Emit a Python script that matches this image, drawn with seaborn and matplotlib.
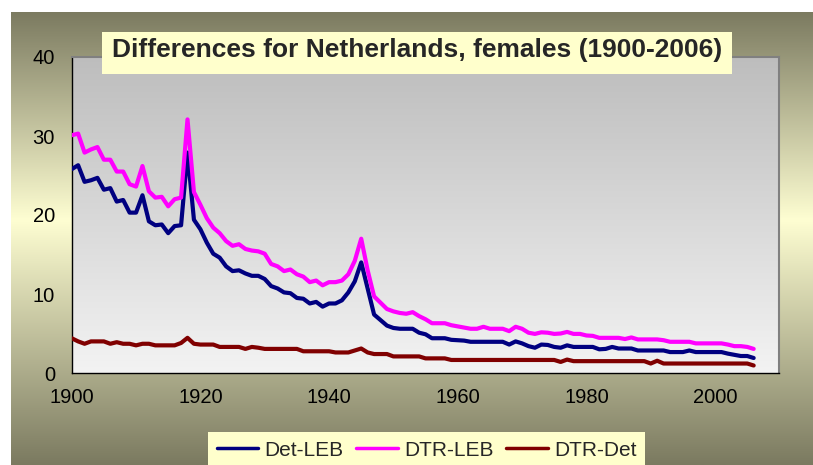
import numpy as np
import pandas as pd
import matplotlib
matplotlib.use("Agg")
import matplotlib.pyplot as plt
from matplotlib.colors import LinearSegmentedColormap
from matplotlib.patches import Rectangle
from matplotlib.lines import Line2D
import seaborn as sns

# values, one per year 1900..2006
years = list(range(1900, 2007))

det_leb = [25.8, 26.3, 24.2, 24.4, 24.7, 23.2, 23.4, 21.7, 21.9, 20.3,
           20.3, 22.5, 19.2, 18.7, 18.8, 17.7, 18.6, 18.7, 27.9, 19.4,
           18.2, 16.5, 15.1, 14.6, 13.5, 12.9, 13.0, 12.6, 12.3, 12.3,
           11.9, 11.0, 10.7, 10.2, 10.1, 9.5, 9.4, 8.8, 9.0, 8.4,
           8.8, 8.8, 9.2, 10.2, 11.6, 14.0, 10.7, 7.4, 6.7, 6.0,
           5.7, 5.6, 5.6, 5.6, 5.1, 4.9, 4.4, 4.4, 4.4, 4.2,
           4.15, 4.1, 3.95, 3.95, 3.95, 3.95, 3.95, 3.95, 3.6, 4.0,
           3.75, 3.4, 3.2, 3.6, 3.55, 3.3, 3.2, 3.5, 3.3, 3.3,
           3.3, 3.3, 3.0, 3.05, 3.3, 3.1, 3.1, 3.1, 2.85, 2.85,
           2.85, 2.85, 2.85, 2.65, 2.65, 2.65, 2.85, 2.65, 2.65, 2.65,
           2.65, 2.65, 2.45, 2.3, 2.15, 2.15, 1.9]

dtr_leb = [30.1, 30.3, 27.9, 28.3, 28.6, 27.0, 27.0, 25.5, 25.5, 23.9,
           23.6, 26.2, 23.0, 22.2, 22.3, 21.1, 22.0, 22.2, 32.1, 22.9,
           21.3, 19.6, 18.4, 17.7, 16.7, 16.1, 16.3, 15.7, 15.5, 15.4,
           15.1, 13.8, 13.5, 12.9, 13.1, 12.5, 12.2, 11.5, 11.7, 11.1,
           11.5, 11.5, 11.7, 12.5, 14.2, 17.0, 13.0, 9.7, 8.9, 8.1,
           7.8, 7.6, 7.5, 7.7, 7.2, 6.8, 6.3, 6.3, 6.3, 6.05,
           5.9, 5.75, 5.6, 5.6, 5.85, 5.6, 5.6, 5.6, 5.3, 5.85,
           5.6, 5.1, 4.95, 5.15, 5.1, 4.95, 5.0, 5.2, 4.95, 4.95,
           4.75, 4.7, 4.45, 4.45, 4.45, 4.45, 4.3, 4.5, 4.25, 4.25,
           4.25, 4.25, 4.15, 3.95, 3.95, 3.95, 3.95, 3.75, 3.75, 3.75,
           3.75, 3.75, 3.6, 3.4, 3.4, 3.3, 3.05]

dtr_det = [4.4, 4.0, 3.7, 4.0, 4.0, 4.0, 3.7, 3.9, 3.7, 3.7,
           3.5, 3.7, 3.7, 3.5, 3.5, 3.5, 3.5, 3.8, 4.45, 3.7,
           3.6, 3.6, 3.6, 3.3, 3.3, 3.3, 3.3, 3.05, 3.3, 3.2,
           3.05, 3.05, 3.05, 3.05, 3.05, 3.05, 2.75, 2.75, 2.75, 2.75,
           2.75, 2.6, 2.6, 2.6, 2.85, 3.1, 2.6, 2.4, 2.4, 2.4,
           2.1, 2.1, 2.1, 2.1, 2.1, 1.85, 1.85, 1.85, 1.85, 1.65,
           1.65, 1.65, 1.65, 1.65, 1.65, 1.65, 1.65, 1.65, 1.65, 1.65,
           1.65, 1.65, 1.65, 1.65, 1.65, 1.65, 1.4, 1.7, 1.5, 1.5,
           1.5, 1.5, 1.5, 1.5, 1.5, 1.5, 1.5, 1.5, 1.5, 1.5,
           1.2, 1.55, 1.2, 1.2, 1.2, 1.2, 1.2, 1.2, 1.2, 1.2,
           1.2, 1.2, 1.2, 1.2, 1.2, 1.2, 0.95]

series_names = ["Det-LEB", "DTR-LEB", "DTR-Det"]
series_colors = ["#000080", "#ff00ff", "#800000"]
title = "Differences for Netherlands, females (1900-2006)"
x_ticks = [1900, 1920, 1940, 1960, 1980, 2000]
y_ticks = [0, 10, 20, 30, 40]

df = pd.DataFrame({"year": years, "Det-LEB": det_leb,
                   "DTR-LEB": dtr_leb, "DTR-Det": dtr_det})
df = df.melt(id_vars="year", var_name="series", value_name="diff")

sns.set_style("white")
plt.rcParams["font.family"] = ["Liberation Sans", "DejaVu Sans"]

W, H = 813, 465
fig = plt.figure(figsize=(W / 100, H / 100), dpi=100)
fig.patch.set_facecolor("white")

# olive / pale yellow chart-area gradient
bg = fig.add_axes([11 / W, 0, 1 - 11 / W, 1 - 12 / H], zorder=-10)
bg_cmap = LinearSegmentedColormap.from_list(
    "bg", [(0, "#7b7a60"), (0.46, "#fefed2"), (1, "#7b7a60")])
bg.imshow(np.linspace(0, 1, 256).reshape(-1, 1), aspect="auto",
          cmap=bg_cmap, extent=[0, 1, 0, 1], origin="upper")
bg.set_axis_off()

ax = fig.add_axes([71.7 / W, (H - 373) / H, (779.4 - 71.7) / W, (373 - 57) / H])
plot_cmap = LinearSegmentedColormap.from_list("pa", ["#bdbdbd", "#f3f3f3"])
ax.imshow(np.linspace(0, 1, 256).reshape(-1, 1), aspect="auto", cmap=plot_cmap,
          extent=[1900, 2010, 0, 40], origin="upper", zorder=0)

sns.lineplot(data=df, x="year", y="diff", hue="series", hue_order=series_names,
             palette=dict(zip(series_names, series_colors)), linewidth=3,
             legend=False, ax=ax, zorder=3)

ax.set_xlim(1900, 2010)
ax.set_ylim(0, 40)
ax.set_xticks(x_ticks)
ax.set_yticks(y_ticks)
ax.set_xlabel("")
ax.set_ylabel("")
ax.tick_params(axis="both", direction="out", length=6, width=1,
               colors="black", labelsize=14.5)
ax.tick_params(axis="x", pad=5)
ax.tick_params(axis="y", pad=6)
for side in ["left", "bottom"]:
    ax.spines[side].set_color("black")
    ax.spines[side].set_linewidth(1)
for side in ["top", "right"]:
    ax.spines[side].set_color("#808080")
    ax.spines[side].set_linewidth(1.5)

# title box
fig.add_artist(Rectangle((102 / W, 1 - 74 / H), (732 - 102) / W, (74 - 32) / H,
                         transform=fig.transFigure, facecolor="#ffffcc",
                         edgecolor="none", zorder=5))
fig.text(417 / W, 1 - 50 / H, title, ha="center", va="center",
         fontsize=19, fontweight="bold", zorder=6)

handles = [Line2D([], [], color=c, lw=2.5) for c in series_colors]
fig.legend(handles, series_names, loc="center", ncol=3,
           bbox_to_anchor=(426.5 / W, 1 - 450 / H), frameon=True,
           facecolor="#ffffcc", edgecolor="none", fancybox=False, framealpha=1,
           fontsize=15, handlelength=2.0, handletextpad=0.3,
           columnspacing=0.6, borderpad=0.4)

fig.savefig("out.png", dpi=100)
